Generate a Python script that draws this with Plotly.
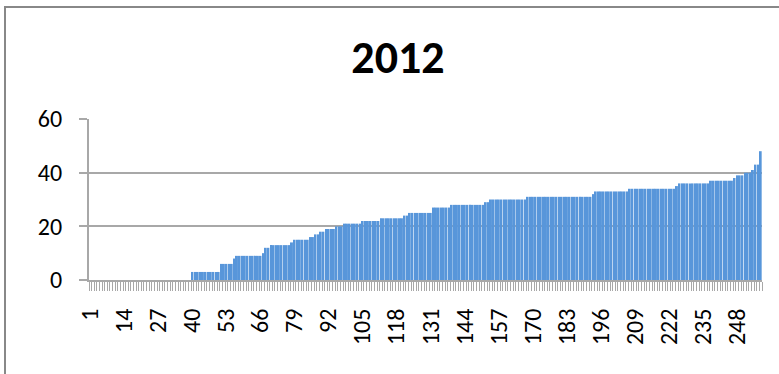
import plotly.graph_objects as go

categories = list(range(1, 258))

values = [
    0, 0, 0, 0, 0, 0, 0, 0, 0, 0, 0, 0, 0, 0, 0, 0, 0, 0, 0, 0,
    0, 0, 0, 0, 0, 0, 0, 0, 0, 0, 0, 0, 0, 0, 0, 0, 0, 0, 0,
    3, 3, 3, 3, 3, 3, 3, 3, 3, 3, 3,
    6, 6, 6, 6, 6,
    8,
    9, 9, 9, 9, 9, 9, 9, 9, 9, 9,
    10,
    12, 12,
    13, 13, 13, 13, 13, 13, 13, 13,
    14,
    15, 15, 15, 15, 15, 15,
    16, 16,
    17, 17,
    18, 18,
    19, 19, 19, 19,
    20, 20, 20,
    21, 21, 21, 21, 21, 21, 21,
    22, 22, 22, 22, 22, 22, 22,
    23, 23, 23, 23, 23, 23, 23, 23, 23,
    24, 24,
    25, 25, 25, 25, 25, 25, 25, 25, 25,
    27, 27, 27, 27, 27, 27, 27,
    28, 28, 28, 28, 28, 28, 28, 28, 28, 28, 28, 28, 28,
    29, 29,
    30, 30, 30, 30, 30, 30, 30, 30, 30, 30, 30, 30, 30, 30,
    31, 31, 31, 31, 31, 31, 31, 31, 31, 31, 31, 31, 31, 31, 31, 31, 31, 31, 31, 31,
    31, 31, 31, 31, 31,
    32,
    33, 33, 33, 33, 33, 33, 33, 33, 33, 33, 33, 33, 33,
    34, 34, 34, 34, 34, 34, 34, 34, 34, 34, 34, 34, 34, 34, 34, 34, 34, 34,
    35,
    36, 36, 36, 36, 36, 36, 36, 36, 36, 36, 36, 36,
    37, 37, 37, 37, 37, 37, 37, 37, 37,
    38,
    39, 39, 39,
    40, 40, 40,
    41,
    43, 43,
    48,
]

x_tick_values = [1, 14, 27, 40, 53, 66, 79, 92, 105, 118, 131, 144, 157, 170,
                 183, 196, 209, 222, 235, 248]
x_tick_labels = ["1", "14", "27", "40", "53", "66", "79", "92", "105", "118",
                 "131", "144", "157", "170", "183", "196", "209", "222",
                 "235", "248"]
y_tick_values = [0, 20, 40, 60]
title_text = "2012"

FONT = "Carlito, Calibri, Lato, sans-serif"
GRID = "#a8a8a8"

fig = go.Figure(
    go.Bar(
        x=categories,
        y=values,
        marker=dict(color="#5896da", line=dict(width=0)),
        hoverinfo="x+y",
    )
)

W, H = 779, 374
L, R, T, B = 89, 17, 119, 94
pw = W - L - R
ph = H - T - B

fig.update_layout(
    width=W,
    height=H,
    margin=dict(l=L, r=R, t=T, b=B),
    paper_bgcolor="white",
    plot_bgcolor="white",
    bargap=0.25,
    showlegend=False,
    title=dict(
        text="<b>%s</b>" % title_text,
        font=dict(family=FONT, size=46, color="black"),
        x=398 / W,
        xref="container",
        xanchor="center",
        y=1 - 57 / H,
        yref="container",
        yanchor="middle",
    ),
    font=dict(family=FONT, color="black"),
    shapes=[
        dict(
            type="rect",
            xref="paper",
            yref="paper",
            x0=(5 - L) / pw,
            x1=(800 - L) / pw,
            y0=(H - B - 400) / ph,
            y1=(H - B - 7) / ph,
            line=dict(color="#888888", width=2),
            fillcolor="rgba(0,0,0,0)",
            layer="below",
        )
    ],
)

fig.update_xaxes(
    type="linear",
    range=[0.5, len(categories) + 0.5],
    tickmode="array",
    tickvals=x_tick_values,
    ticktext=x_tick_labels,
    tickangle=-90,
    tickfont=dict(family=FONT, size=24, color="black"),
    ticks="",
    ticklabelstandoff=17,
    showgrid=False,
    zeroline=False,
    showline=True,
    linecolor=GRID,
    linewidth=2,
    minor=dict(
        tickmode="linear",
        tick0=0.5,
        dtick=1,
        ticks="outside",
        ticklen=9,
        tickwidth=1,
        tickcolor=GRID,
        showgrid=False,
    ),
    fixedrange=True,
)

fig.update_yaxes(
    range=[0, 60],
    tickmode="array",
    tickvals=y_tick_values,
    tickfont=dict(family=FONT, size=24, color="black"),
    ticks="outside",
    ticklen=8,
    tickwidth=2,
    tickcolor=GRID,
    ticklabelstandoff=12,
    showgrid=True,
    gridcolor=GRID,
    gridwidth=2,
    zeroline=False,
    showline=True,
    linecolor=GRID,
    linewidth=2,
    fixedrange=True,
)

fig.write_html("out.html")
